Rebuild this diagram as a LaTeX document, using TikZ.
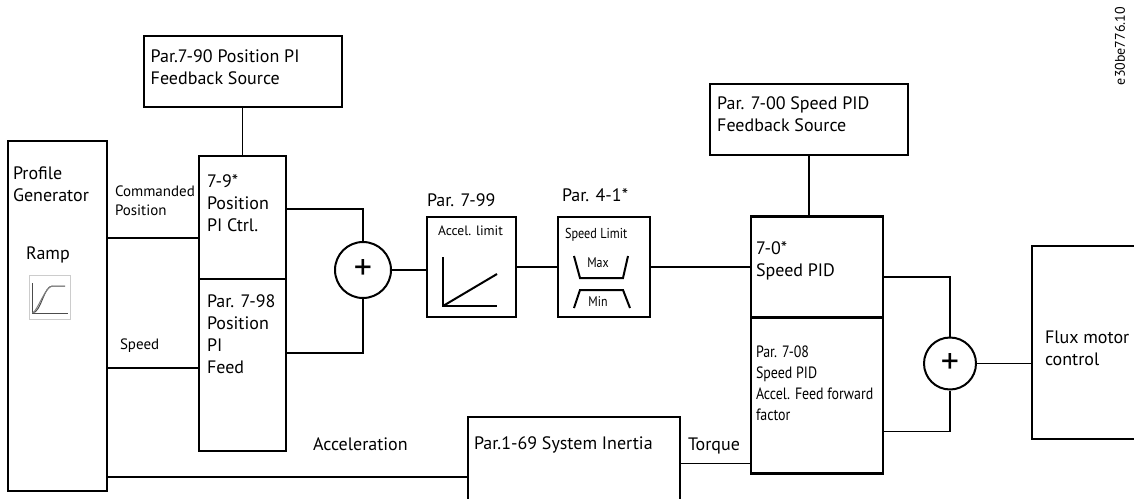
\documentclass[tikz,border=0pt]{standalone}
\usepackage{fontspec}
\setmainfont{PT Sans}
\newfontfamily\narrowfont[FakeStretch=0.85]{PT Sans}
\tikzstyle{block} = [rectangle, draw, line width=2.4pt, inner sep=0]
\tikzstyle{src} = [rectangle, draw, line width=2pt, inner sep=0, minimum width=198pt, minimum height=71pt]
\tikzstyle{sum} = [circle, draw, line width=2pt, inner sep=0, font=\fontsize{36}{36}\selectfont]
\tikzstyle{txt} = [inner sep=0, anchor=north west, align=left, font=\fontsize{18}{22}\selectfont]
\tikzstyle{lbl} = [inner sep=0, align=left, font=\fontsize{15}{19}\selectfont]
\tikzstyle{line} = [draw, line width=1.6pt]

\begin{document}
\begin{tikzpicture}[node distance=120pt]
\useasboundingbox (0pt,0pt) rectangle (1134pt,-498pt);

\node [block, minimum width=99pt, minimum height=350pt] (prof) at (57.5pt,-316pt) {};
\node [block, minimum width=87pt, minimum height=123pt, right of=prof, xshift=65pt, yshift=98.5pt] (pictrl) {};
\node [block, minimum width=87pt, minimum height=172pt, below of=pictrl, yshift=-27.5pt] (piff) {};
\node [src, above of=pictrl, yshift=26pt] (pisrc) {};
\node [sum, minimum size=56pt, right of=pictrl, xshift=0.5pt, yshift=-52.5pt] (sum1) {+};
\node [block, minimum width=89pt, minimum height=100pt, right of=sum1, xshift=-11.5pt, yshift=3pt] (accel) {};
\node [block, minimum width=92pt, minimum height=100pt, right of=accel, xshift=12.5pt] (spdlim) {};
\node [block, minimum width=132pt, minimum height=101pt, right of=spdlim, xshift=93pt] (spdpid) {};
\node [block, minimum width=132pt, minimum height=156pt, below of=spdpid, yshift=-8.5pt] (ffwd) {};
\node [src, above of=spdpid, xshift=-8pt, yshift=27.5pt] (spdsrc) {};
\node [sum, minimum size=52pt, right of=ffwd, xshift=13pt, yshift=32pt] (sum2) {+};
\node [block, minimum width=128pt, minimum height=193pt, right of=sum2, xshift=26pt, yshift=21pt] (flux) {};
\node [block, minimum width=212pt, minimum height=93pt, left of=ffwd, xshift=-123pt, yshift=-68pt] (inertia) {};

\node [txt] (pisrctxt) at ([xshift=8pt, yshift=-14pt]pisrc.north west) {Par.7-90 Position PI\\Feedback Source};
\node [txt] (proftxt) at ([xshift=6pt, yshift=-27pt]prof.north west) {Profile\\Generator};
\node [txt] (ramptxt) at ([xshift=19pt, yshift=-107pt]prof.north west) {Ramp};
\node [txt] (pictrltxt) at ([xshift=9pt, yshift=-20pt]pictrl.north west) {7-9*\\Position\\PI Ctrl.};
\node [txt] (pifftxt) at ([xshift=9pt, yshift=-17pt]piff.north west) {Par. 7-98\\Position\\PI\\Feed};
\node [txt] (spdsrctxt) at ([xshift=8pt, yshift=-13pt]spdsrc.north west) {Par. 7-00 Speed PID\\Feedback Source};
\node [txt] (spdpidtxt) at ([xshift=6pt, yshift=-26pt]spdpid.north west) {7-0*\\Speed PID};
\node [txt, font=\narrowfont\fontsize{16.4}{21}\selectfont] (ffwdtxt) at ([xshift=6pt, yshift=-29pt]ffwd.north west) {Par. 7-08\\Speed PID\\Accel. Feed forward\\factor};
\node [txt] (fluxtxt) at ([xshift=14pt, yshift=-86pt]flux.north west) {Flux motor\\control};
\node [txt] (inertiatxt) at ([xshift=7pt, yshift=-21pt]inertia.north west) {Par.1-69 System Inertia};
\node [txt, font=\fontsize{13.6}{16}\selectfont] (acceltxt) at ([xshift=12pt, yshift=-10pt]accel.north west) {Accel. limit};
\node [txt, font=\narrowfont\fontsize{14.4}{16}\selectfont] (spdlimtxt) at ([xshift=8pt, yshift=-12pt]spdlim.north west) {Speed Limit};
\node [lbl, font=\narrowfont\fontsize{14}{16}\selectfont] (maxtxt) at ([xshift=-6pt, yshift=4pt]spdlim.center) {Max};
\node [lbl, font=\narrowfont\fontsize{14}{16}\selectfont] (mintxt) at ([xshift=-6pt, yshift=-35pt]spdlim.center) {Min};
\node [txt, anchor=base west] (par799) at ([xshift=1pt, yshift=9pt]accel.north west) {Par. 7-99};
\node [txt, anchor=base west] (par41) at ([xshift=5pt, yshift=14pt]spdlim.north west) {Par. 4-1*};
\node [lbl, rotate=90, font=\fontsize{14}{16}\selectfont] (docid) at (1120pt,-46pt) {e30be776.10};

\node [draw=gray!40, line width=0.8pt, minimum width=41pt, minimum height=44pt, inner sep=0] (rampicon) at ([xshift=-8pt, yshift=19pt]prof.center) {};
\begin{scope}[shift={(rampicon.center)}, line width=1pt, gray!60!black]
\draw (-17.5pt,14pt) -- (-17.5pt,-16pt) -- (18.5pt,-16pt);
\draw (-17pt,-16pt) .. controls (-8pt,-15pt) and (-6pt,11pt) .. (3pt,11pt) -- (15.5pt,11pt);
\draw [gray] (-17pt,-16pt) .. controls (-12pt,-14pt) and (-4pt,11pt) .. (3pt,11pt);
\end{scope}

\begin{scope}[shift={(accel.center)}, line width=2pt]
\draw (-28.5pt,10pt) -- (-28.5pt,-39pt) -- (25.5pt,-39pt);
\draw (-28.5pt,-39pt) -- (25.5pt,-7pt);
\end{scope}

\begin{scope}[shift={(spdlim.center)}, line width=2pt]
\draw (-30pt,11pt) -- (-24pt,-11pt) -- (19pt,-11pt) -- (24pt,11pt);
\draw (-30pt,-41pt) -- (-24pt,-23pt) -- (19pt,-23pt) -- (26pt,-41pt);
\end{scope}

\coordinate (cmd) at ([yshift=78pt]prof.east);
\coordinate (spd) at ([yshift=-52pt]prof.east);
\coordinate (acc) at ([yshift=-161pt]prof.east);

\path [line] (cmd) -- (cmd -| pictrl.west) node [lbl, pos=0, anchor=north west, xshift=6pt, yshift=53pt] (cmdtxt) {Commanded\\Position};
\path [line] (spd) -- (spd -| piff.west) node [lbl, pos=0, anchor=north west, xshift=11pt, yshift=30pt] (spdtxt) {Speed};
\path [line] (acc) -- (acc -| inertia.west) node [txt, pos=0, xshift=204pt, yshift=40pt] (acctxt) {Acceleration};
\path [line] (pisrc) -- (pictrl);
\path [line] ([yshift=8.5pt]pictrl.east) -| (sum1.north);
\path [line] ([yshift=12pt]piff.east) -| (sum1.south);
\path [line] (sum1.east) -- (sum1.east -| accel.west);
\path [line] (accel) -- (spdlim);
\path [line] (spdlim) -- (spdpid);
\path [line] (spdsrc) -- (spdsrc |- spdpid.north);
\path [line] ([yshift=-10pt]spdpid.east) -| (sum2.north);
\path [line] ([yshift=-36pt]ffwd.east) -| (sum2.south);
\path [line] (sum2.east) -- (sum2.east -| flux.west);
\path [line] (inertia.east) -- (inertia.east -| ffwd.west) node [txt, pos=0, xshift=6pt, yshift=26pt] (torquetxt) {Torque};

\end{tikzpicture}
\end{document}
